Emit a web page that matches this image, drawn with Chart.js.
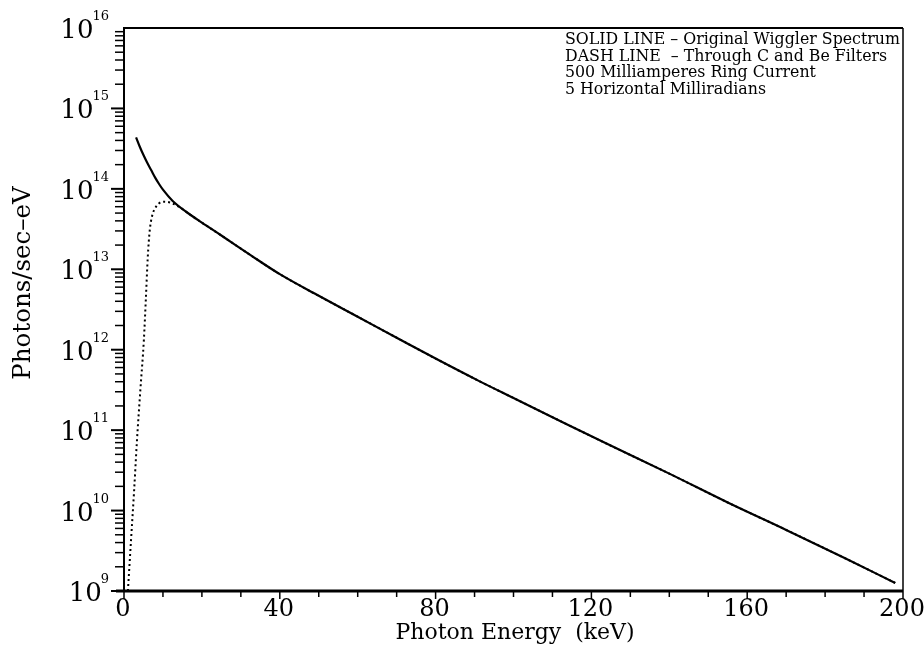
<!DOCTYPE html>
<html>
<head>
<meta charset="utf-8">
<script src="https://cdn.jsdelivr.net/npm/chart.js@4.4.1/dist/chart.umd.min.js"></script>
<style>
  html, body { margin: 0; padding: 0; background: #fff; }
  #wrap { width: 924px; height: 657px; }
</style>
</head>
<body>
<div id="wrap"><canvas id="chartWiggler" width="924" height="657"></canvas></div>
<script>
// photon energy (keV) and flux (photons/sec-eV)
const solidEnergy = [3.1, 4, 5, 6, 7, 8, 9, 10, 12.5, 16.4, 20, 25, 32.4, 40, 50, 60, 70, 80, 91.2, 100, 110, 123.6, 140, 155, 170, 185, 198];
const solidFlux   = [4.37e14, 3.39e14, 2.63e14, 2.09e14, 1.70e14, 1.38e14, 1.15e14, 9.77e13, 7.08e13, 5.01e13, 3.8e13, 2.63e13, 1.51e13, 8.7e12, 4.68e12, 2.57e12, 1.41e12, 7.76e11, 4.07e11, 2.51e11, 1.45e11, 6.9e10, 2.88e10, 1.26e10, 5.75e9, 2.57e9, 1.26e9];

const dashEnergy = [1.0, 1.8, 2.6, 3.3, 4.2, 5.1, 5.6, 6.1, 6.6, 7.2, 8, 9, 10.3, 11.8, 13.3, 15, 16.4, 20, 25, 32.4, 40, 50, 60, 70, 80, 91.2, 100, 110, 123.6, 140, 155, 170, 185, 198];
const dashFlux   = [1.0e9, 4.27e9, 1.78e10, 7.08e10, 3.16e11, 1.32e12, 4.17e12, 1.41e13, 3.02e13, 4.57e13, 5.75e13, 6.61e13, 6.92e13, 6.76e13, 6.31e13, 5.62e13, 5.01e13, 3.8e13, 2.63e13, 1.51e13, 8.7e12, 4.68e12, 2.57e12, 1.41e12, 7.76e11, 4.07e11, 2.51e11, 1.45e11, 6.9e10, 2.88e10, 1.26e10, 5.75e9, 2.57e9, 1.26e9];

const xTickLabels = [0, 40, 80, 120, 160, 200];
const yDecades = [9, 10, 11, 12, 13, 14, 15, 16];

const legendLines = [
    'SOLID LINE \u2013 Original Wiggler Spectrum',
    'DASH LINE  \u2013 Through C and Be Filters',
    '500 Milliamperes Ring Current',
    '5 Horizontal Milliradians'
];

const FONT = '"DejaVu Serif", "Liberation Serif", serif';

const toPoints = (xs, ys) => xs.map((x, i) => ({ x: x, y: ys[i] }));

// frame, ticks and all text drawn with the chart's own scales
const decoraciones = {
    id: 'decoraciones',
    afterDraw(chart) {
        const ctx = chart.ctx;
        const { left, right, top, bottom } = chart.chartArea;
        const xs = chart.scales.x;
        const ys = chart.scales.y;
        ctx.save();
        ctx.strokeStyle = '#000';
        ctx.fillStyle = '#000';

        // box
        ctx.lineWidth = 2;
        ctx.beginPath();
        ctx.moveTo(left, bottom); ctx.lineTo(left, top); ctx.lineTo(right, top);
        ctx.stroke();
        ctx.lineWidth = 1.5;
        ctx.beginPath();
        ctx.moveTo(right, top); ctx.lineTo(right, bottom);
        ctx.stroke();
        ctx.lineWidth = 3;
        ctx.beginPath();
        ctx.moveTo(left - 8, bottom); ctx.lineTo(right, bottom);
        ctx.stroke();

        // x ticks every 10 keV
        ctx.lineWidth = 1.5;
        for (let e = 0; e <= 200; e += 10) {
            const px = xs.getPixelForValue(e);
            ctx.beginPath();
            ctx.moveTo(px, bottom);
            ctx.lineTo(px, bottom + (e % 40 === 0 ? 8 : 6));
            ctx.stroke();
        }

        // y log ticks
        for (let d = 9; d < 16; d++) {
            for (let m = 1; m <= 9; m++) {
                const py = ys.getPixelForValue(m * Math.pow(10, d));
                ctx.lineWidth = m === 1 ? 2 : 1.5;
                ctx.beginPath();
                ctx.moveTo(left - (m === 1 ? 13 : 9), py);
                ctx.lineTo(left, py);
                ctx.stroke();
            }
        }

        // x labels
        ctx.font = '24px ' + FONT;
        ctx.textAlign = 'center';
        ctx.textBaseline = 'alphabetic';
        xTickLabels.forEach(v => {
            ctx.fillText(String(v), xs.getPixelForValue(v) - 1, bottom + 25);
        });
        ctx.font = '22px ' + FONT;
        ctx.fillText('Photon Energy  (keV)', 515, bottom + 48);

        // y labels 10^n
        yDecades.forEach(d => {
            const py = ys.getPixelForValue(Math.pow(10, d));
            ctx.font = '13px ' + FONT;
            const ew = ctx.measureText(String(d)).width;
            const xr = left - 15 - ew;
            ctx.textAlign = 'left';
            ctx.fillText(String(d), xr, py - 8);
            ctx.font = '26px ' + FONT;
            ctx.textAlign = 'right';
            ctx.fillText('10', xr + 1, py + 10);
        });

        // y title
        ctx.save();
        ctx.translate(30, 283);
        ctx.rotate(-Math.PI / 2);
        ctx.font = '24.5px ' + FONT;
        ctx.textAlign = 'center';
        ctx.fillText('Photons/sec\u2013eV', 0, 0);
        ctx.restore();

        // legend notes
        ctx.font = '15.8px ' + FONT;
        ctx.textAlign = 'left';
        legendLines.forEach((t, i) => {
            ctx.fillText(t, 565, top + 16 + i * 16.5);
        });
        ctx.restore();
    }
};

new Chart(document.getElementById('chartWiggler'), {
    type: 'line',
    data: {
        datasets: [
            {
                label: 'Original Wiggler Spectrum',
                data: toPoints(solidEnergy, solidFlux),
                borderColor: '#000',
                borderWidth: 2.2,
                pointRadius: 0,
                cubicInterpolationMode: 'monotone',
                fill: false
            },
            {
                label: 'Through C and Be Filters',
                data: toPoints(dashEnergy, dashFlux),
                borderColor: '#000',
                borderWidth: 2,
                borderDash: [2, 3],
                pointRadius: 0,
                cubicInterpolationMode: 'monotone',
                fill: false
            }
        ]
    },
    options: {
        responsive: false,
        animation: false,
        layout: { padding: { left: 124, right: 21, top: 28, bottom: 66 } },
        plugins: {
            legend: { display: false },
            tooltip: { enabled: false }
        },
        scales: {
            x: { type: 'linear', min: 0, max: 200, display: false },
            y: { type: 'logarithmic', min: 1e9, max: 1e16, display: false }
        }
    },
    plugins: [decoraciones]
});
</script>
</body>
</html>
